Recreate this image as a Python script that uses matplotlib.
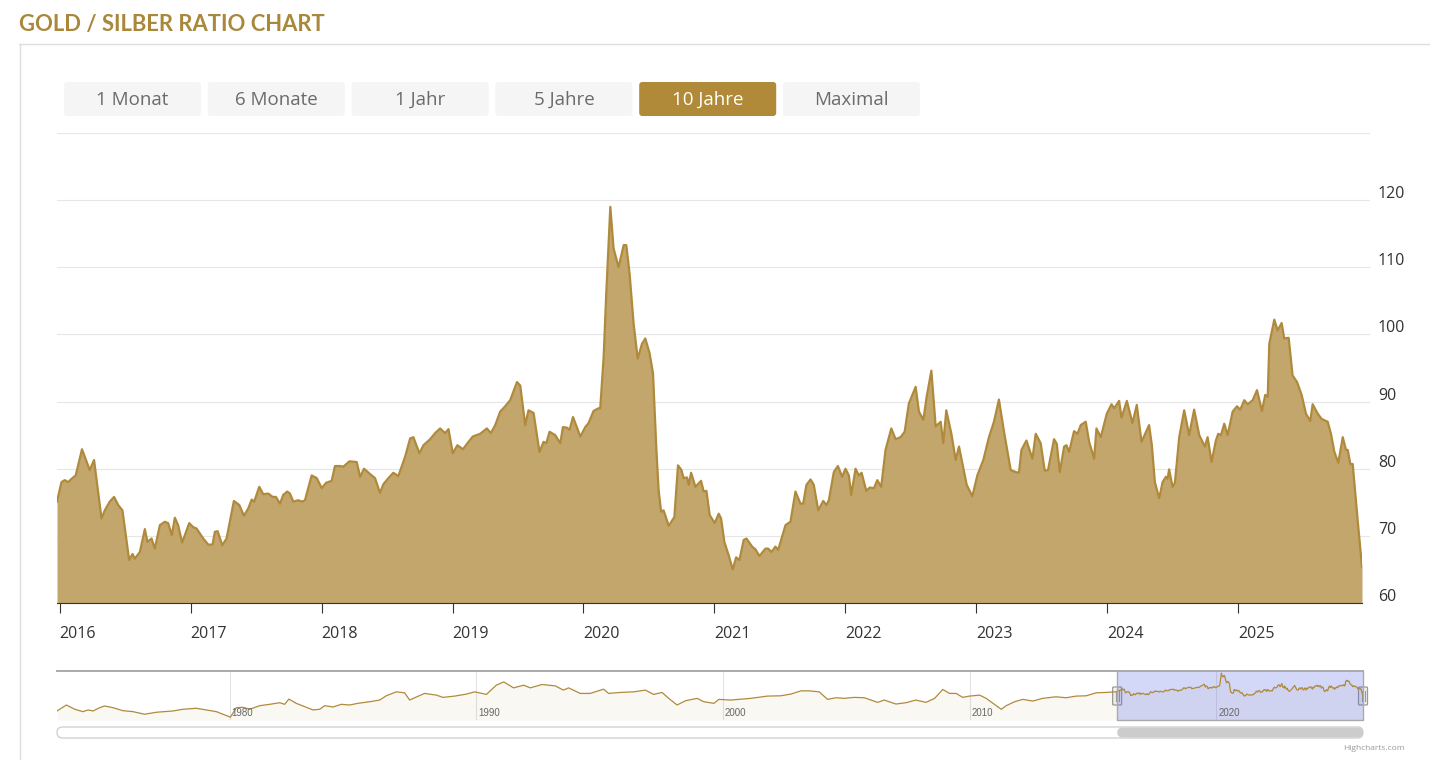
import matplotlib
matplotlib.use('Agg')
import matplotlib.pyplot as plt
from matplotlib.patches import FancyBboxPatch
from matplotlib.transforms import blended_transform_factory, offset_copy

# ---------------- data ----------------
MAIN_YEARS = [
    2015.979, 2016.013, 2016.038, 2016.063, 2016.097, 2016.122, 2016.170, 2016.229, 2016.262, 2016.319,
    2016.344, 2016.382, 2016.415, 2016.446, 2016.479, 2016.530, 2016.556, 2016.573, 2016.612, 2016.650,
    2016.670, 2016.701, 2016.726, 2016.765, 2016.803, 2016.828, 2016.856, 2016.879, 2016.904, 2016.935,
    2016.989, 2017.019, 2017.045, 2017.096, 2017.134, 2017.167, 2017.185, 2017.206, 2017.241, 2017.274,
    2017.330, 2017.371, 2017.407, 2017.440, 2017.466, 2017.485, 2017.524, 2017.554, 2017.593, 2017.626,
    2017.651, 2017.682, 2017.707, 2017.738, 2017.758, 2017.784, 2017.822, 2017.852, 2017.873, 2017.924,
    2017.963, 2018.001, 2018.034, 2018.077, 2018.102, 2018.141, 2018.166, 2018.212, 2018.268, 2018.294,
    2018.324, 2018.370, 2018.408, 2018.446, 2018.472, 2018.510, 2018.548, 2018.586, 2018.638, 2018.676,
    2018.701, 2018.747, 2018.778, 2018.829, 2018.867, 2018.905, 2018.943, 2018.969, 2019.002, 2019.037,
    2019.079, 2019.122, 2019.155, 2019.211, 2019.262, 2019.293, 2019.326, 2019.364, 2019.402, 2019.440,
    2019.492, 2019.517, 2019.555, 2019.580, 2019.619, 2019.664, 2019.695, 2019.716, 2019.741, 2019.784,
    2019.823, 2019.843, 2019.874, 2019.894, 2019.920, 2019.976, 2020.014, 2020.039, 2020.077, 2020.115,
    2020.128, 2020.154, 2020.174, 2020.205, 2020.230, 2020.268, 2020.307, 2020.327, 2020.352, 2020.383,
    2020.414, 2020.447, 2020.472, 2020.505, 2020.531, 2020.557, 2020.574, 2020.593, 2020.612, 2020.651,
    2020.694, 2020.722, 2020.748, 2020.765, 2020.791, 2020.804, 2020.822, 2020.855, 2020.898, 2020.918,
    2020.939, 2020.964, 2021.002, 2021.033, 2021.051, 2021.076, 2021.109, 2021.140, 2021.166, 2021.191,
    2021.224, 2021.245, 2021.288, 2021.313, 2021.344, 2021.390, 2021.410, 2021.436, 2021.466, 2021.487,
    2021.543, 2021.581, 2021.619, 2021.657, 2021.678, 2021.703, 2021.734, 2021.759, 2021.793, 2021.831,
    2021.856, 2021.874, 2021.912, 2021.943, 2021.976, 2022.001, 2022.027, 2022.045, 2022.078, 2022.103,
    2022.124, 2022.160, 2022.187, 2022.218, 2022.244, 2022.274, 2022.307, 2022.351, 2022.384, 2022.422,
    2022.453, 2022.485, 2022.537, 2022.562, 2022.596, 2022.621, 2022.657, 2022.690, 2022.728, 2022.748,
    2022.771, 2022.810, 2022.843, 2022.868, 2022.927, 2022.970, 2023.008, 2023.054, 2023.097, 2023.135,
    2023.173, 2023.212, 2023.263, 2023.301, 2023.326, 2023.345, 2023.383, 2023.429, 2023.454, 2023.492,
    2023.523, 2023.548, 2023.594, 2023.615, 2023.638, 2023.671, 2023.689, 2023.709, 2023.747, 2023.773,
    2023.798, 2023.836, 2023.862, 2023.900, 2023.918, 2023.951, 2023.997, 2024.033, 2024.053, 2024.091,
    2024.109, 2024.150, 2024.193, 2024.226, 2024.262, 2024.320, 2024.341, 2024.364, 2024.397, 2024.423,
    2024.448, 2024.461, 2024.473, 2024.499, 2024.517, 2024.550, 2024.588, 2024.626, 2024.664, 2024.703,
    2024.746, 2024.767, 2024.797, 2024.830, 2024.848, 2024.869, 2024.894, 2024.920, 2024.958, 2024.991,
    2025.016, 2025.047, 2025.073, 2025.111, 2025.144, 2025.182, 2025.207, 2025.226, 2025.238, 2025.276,
    2025.302, 2025.332, 2025.352, 2025.386, 2025.416, 2025.450, 2025.485, 2025.518, 2025.551, 2025.569,
    2025.608, 2025.638, 2025.684, 2025.709, 2025.735, 2025.765, 2025.799, 2025.824, 2025.837, 2025.857,
    2025.875, 2025.913, 2025.946,
]
MAIN_VALUES = [
    75.1, 78.0, 78.3, 78.0, 78.6, 79.0, 82.9, 79.8, 81.3, 72.6,
    73.8, 75.1, 75.8, 74.6, 73.8, 66.4, 67.3, 66.6, 67.6, 71.0,
    69.1, 69.6, 68.1, 71.6, 72.1, 71.9, 70.1, 72.7, 71.6, 69.0,
    71.9, 71.3, 71.1, 69.6, 68.7, 68.7, 70.6, 70.7, 68.6, 69.6,
    75.2, 74.6, 73.0, 74.1, 75.4, 75.1, 77.3, 76.2, 76.3, 75.8,
    75.8, 74.8, 76.1, 76.6, 76.3, 75.1, 75.3, 75.1, 75.3, 79.0,
    78.6, 77.1, 77.9, 78.2, 80.4, 80.4, 80.3, 81.1, 81.0, 78.8,
    80.0, 79.2, 78.6, 76.4, 77.7, 78.6, 79.4, 78.9, 81.8, 84.5,
    84.7, 82.3, 83.5, 84.4, 85.3, 86.0, 85.3, 85.9, 82.3, 83.5,
    82.9, 84.0, 84.8, 85.2, 86.0, 85.3, 86.5, 88.5, 89.3, 90.2,
    92.9, 92.4, 86.5, 88.7, 88.3, 82.5, 84.0, 83.8, 85.5, 85.0,
    83.8, 86.2, 86.1, 85.8, 87.7, 84.8, 86.2, 86.8, 88.6, 89.0,
    89.0, 96.6, 106.1, 119.0, 112.8, 110.0, 113.3, 113.3, 109.1, 101.6,
    96.4, 98.6, 99.4, 97.2, 94.2, 82.8, 76.8, 73.6, 73.8, 71.5,
    72.8, 80.5, 79.8, 78.6, 78.7, 77.6, 79.4, 77.3, 78.2, 76.6,
    76.7, 73.1, 71.9, 73.3, 72.6, 69.1, 67.1, 65.0, 66.8, 66.4,
    69.4, 69.6, 68.4, 68.0, 67.0, 68.1, 68.1, 67.6, 68.4, 67.9,
    71.6, 72.1, 76.6, 74.8, 74.8, 77.6, 78.4, 77.6, 73.8, 75.2,
    74.6, 75.3, 79.5, 80.4, 78.8, 80.0, 79.0, 76.1, 80.0, 79.0,
    79.4, 76.7, 77.2, 77.1, 78.3, 77.3, 82.8, 86.0, 84.4, 84.7,
    85.5, 89.7, 92.2, 88.5, 87.3, 90.7, 94.6, 86.3, 87.0, 83.8,
    88.7, 85.2, 81.3, 83.3, 77.6, 75.9, 79.0, 81.3, 84.7, 87.0,
    90.3, 85.5, 79.8, 79.5, 79.4, 82.8, 84.2, 81.5, 85.2, 83.8,
    79.7, 79.8, 84.4, 83.7, 79.5, 83.3, 83.5, 82.5, 85.6, 85.2,
    86.5, 87.0, 84.0, 81.5, 86.0, 84.7, 88.2, 89.6, 89.0, 90.1,
    87.6, 90.1, 86.8, 89.5, 84.0, 86.5, 83.5, 78.0, 75.6, 78.0,
    78.8, 78.5, 79.9, 77.3, 77.9, 84.7, 88.7, 85.0, 88.8, 85.0,
    83.3, 84.7, 81.0, 84.2, 85.2, 85.0, 86.7, 85.0, 88.5, 89.3,
    88.8, 90.2, 89.6, 90.2, 91.7, 88.6, 91.0, 90.7, 98.6, 102.2,
    100.6, 101.7, 99.4, 99.5, 93.9, 92.9, 91.0, 88.2, 87.1, 89.6,
    88.2, 87.4, 87.0, 85.2, 82.5, 80.9, 84.7, 82.8, 82.8, 80.7,
    80.7, 72.3, 65.4,
]

# navigator history before the zoomed range
NAV_YEARS = [
    1973.00, 1973.38, 1973.72, 1974.05, 1974.26, 1974.46, 1974.73, 1974.93, 1975.27, 1975.67,
    1976.08, 1976.55, 1977.03, 1977.70, 1978.11, 1978.65, 1979.06, 1979.46, 1979.80, 1980.03,
    1980.27, 1980.54, 1980.81, 1981.22, 1981.62, 1982.03, 1982.23, 1982.40, 1982.70, 1983.11,
    1983.38, 1983.65, 1983.85, 1984.19, 1984.53, 1984.86, 1985.20, 1985.67, 1986.08, 1986.35,
    1986.76, 1987.09, 1987.30, 1987.50, 1987.90, 1988.38, 1988.65, 1989.12, 1989.60, 1989.93,
    1990.41, 1990.81, 1991.11, 1991.51, 1991.92, 1992.19, 1992.66, 1993.20, 1993.53, 1993.74,
    1994.21, 1994.62, 1995.16, 1995.36, 1995.84, 1996.38, 1996.85, 1997.19, 1997.53, 1997.80,
    1998.14, 1998.48, 1998.95, 1999.22, 1999.63, 1999.83, 2000.31, 2001.12, 2001.80, 2002.34,
    2002.75, 2003.16, 2003.49, 2003.90, 2004.24, 2004.58, 2004.91, 2005.32, 2005.73, 2006.27,
    2006.54, 2007.01, 2007.42, 2007.82, 2008.23, 2008.58, 2008.91, 2009.18, 2009.45, 2009.72,
    2009.99, 2010.40, 2010.67, 2011.00, 2011.28, 2011.48, 2011.82, 2012.15, 2012.56, 2012.96,
    2013.50, 2013.91, 2014.32, 2014.72, 2015.13, 2015.54, 2015.88,
]
NAV_VALUES = [
    30.2, 44.2, 34.2, 28.6, 32.6, 30.2, 37.9, 41.9, 37.9, 30.9,
    28.6, 22.5, 27.2, 30.2, 34.2, 36.5, 32.6, 28.6, 20.9, 15.6,
    37.9, 38.8, 34.2, 42.6, 45.8, 49.6, 45.8, 58.1, 48.1, 38.8,
    32.6, 34.2, 42.6, 39.5, 45.8, 44.2, 48.1, 51.9, 55.8, 65.8,
    75.1, 72.8, 55.8, 61.2, 71.4, 67.4, 62.1, 65.1, 69.8, 75.1,
    69.1, 90.7, 98.4, 84.4, 90.7, 84.4, 92.3, 89.1, 79.1, 84.4,
    71.4, 71.4, 81.4, 71.4, 73.7, 75.1, 79.1, 69.1, 73.7, 59.8,
    44.2, 54.2, 59.8, 51.9, 48.1, 57.4, 55.8, 59.8, 65.1, 65.8,
    69.8, 77.4, 77.4, 75.1, 57.4, 61.2, 59.8, 62.1, 61.2, 50.4,
    55.8, 46.5, 49.6, 55.8, 50.4, 59.8, 80.7, 71.4, 71.4, 62.1,
    65.1, 67.4, 59.8, 45.8, 34.2, 42.6, 51.9, 57.4, 53.5, 59.8,
    63.5, 61.2, 65.1, 65.8, 72.8, 73.7, 75.1,
]

YEAR_TICKS = list(range(2016, 2026))
Y_TICKS = [60, 70, 80, 90, 100, 110, 120, 130]
Y_LABELS = [60, 70, 80, 90, 100, 110, 120]
NAV_DECADES = [1980, 1990, 2000, 2010, 2020]
NAV_RANGE = (9, 124)
BUTTONS = ['1 Monat', '6 Monate', '1 Jahr', '5 Jahre', '10 Jahre', 'Maximal']
ACTIVE_BUTTON = '10 Jahre'
TITLE = 'GOLD / SILBER RATIO CHART'

# ---------------- style ----------------
GOLD_LINE = '#b08a3c'
GOLD_FILL = '#c3a66b'
GOLD_TITLE = '#a9873b'
FONT = ['Open Sans', 'DejaVu Sans']
plt.rcParams['font.family'] = FONT

W, H = 1430, 760
fig = plt.figure(figsize=(W / 100, H / 100), dpi=100)
fig.patch.set_facecolor('white')


def fr(x0, y0, x1, y1):
    """pixel box (top-left origin) -> figure fraction rect"""
    return [x0 / W, 1 - y1 / H, (x1 - x0) / W, (y1 - y0) / H]


# UI layer in pixel units
ui = fig.add_axes([0, 0, 1, 1])
ui.set_xlim(0, W)
ui.set_ylim(H, 0)
ui.axis('off')

ui.text(19, 24, TITLE, family=['Lato', 'DejaVu Sans'], weight='bold', fontsize=15.8,
        color=GOLD_TITLE, ha='left', va='center')
ui.plot([19, W], [43.5, 43.5], color='#dedede', lw=1)
ui.plot([19.5, 19.5], [43.5, H], color='#dedede', lw=1)

btn_x0, btn_w, btn_step, btn_y0, btn_h = 64, 137, 143.8, 82, 34
for i, name in enumerate(BUTTONS):
    x0 = btn_x0 + i * btn_step
    active = name == ACTIVE_BUTTON
    ui.add_patch(FancyBboxPatch((x0, btn_y0), btn_w, btn_h,
                                boxstyle='round,pad=0,rounding_size=3',
                                fc='#b08a38' if active else '#f5f5f5', ec='none'))
    ui.text(x0 + btn_w / 2, btn_y0 + btn_h / 2 + 1, name, ha='center', va='center',
            fontsize=13.5, color='white' if active else '#6b6b6b')

ui.text(1405, 748, 'Highcharts.com', ha='right', va='center', fontsize=6, color='#999999')

# ---------------- grid layer (extends a little past the plot, as in the original) ----------------
grid = fig.add_axes(fr(57, 133, 1370, 603))
grid.set_facecolor('none')
grid.set_ylim(Y_TICKS[0], Y_TICKS[-1])
grid.set_yticks(Y_TICKS)
grid.set_xticks([])
grid.yaxis.grid(True, color='#e6e6e6', lw=0.8)
grid.tick_params(axis='y', length=0, labelleft=False)
for s in grid.spines.values():
    s.set_visible(False)

# ---------------- main chart ----------------
ax = fig.add_axes(fr(57, 133, 1362, 603))
ax.set_facecolor('none')
ax.set_xlim(MAIN_YEARS[0], MAIN_YEARS[-1])
ax.set_ylim(Y_TICKS[0], Y_TICKS[-1])
ax.fill_between(MAIN_YEARS, MAIN_VALUES, Y_TICKS[0], color=GOLD_FILL, lw=0, zorder=2)
ax.plot(MAIN_YEARS, MAIN_VALUES, color=GOLD_LINE, lw=1.6, solid_joinstyle='round', zorder=3)

ax.set_yticks([])
for s in ['top', 'left', 'right']:
    ax.spines[s].set_visible(False)
ax.spines['bottom'].set_color('#333333')
ax.spines['bottom'].set_linewidth(0.8)
ax.spines['bottom'].set_zorder(4)

ax.set_xticks(YEAR_TICKS)
ax.set_xticklabels([str(y) for y in YEAR_TICKS])
ax.tick_params(axis='x', length=7.2, width=0.8, color='#333333', pad=9.5,
               labelsize=11.5, labelcolor='#333333')
for lbl in ax.get_xticklabels():
    lbl.set_horizontalalignment('left')

ytrans = offset_copy(blended_transform_factory(ax.transAxes, ax.transData),
                     fig=fig, x=16, y=2, units='dots')
for v in Y_LABELS:
    ax.text(1.0, v, str(v), transform=ytrans, ha='left', va='baseline',
            fontsize=11.5, color='#333333', clip_on=False)

# ---------------- navigator ----------------
nav_x = NAV_YEARS + MAIN_YEARS
nav_y = NAV_VALUES + MAIN_VALUES
nav = fig.add_axes(fr(57, 671, 1363, 720))
nav.set_facecolor('none')
nav.set_xlim(nav_x[0], nav_x[-1])
nav.set_ylim(*NAV_RANGE)
nav.axis('off')
nav.fill_between(nav_x, nav_y, NAV_RANGE[0], color=GOLD_LINE, alpha=0.06, lw=0)
nav.plot(nav_x, nav_y, color=GOLD_LINE, lw=0.9)
ntrans = blended_transform_factory(nav.transData, nav.transAxes)
nlab = offset_copy(ntrans, fig=fig, x=2, y=0, units='dots')
for d in NAV_DECADES:
    nav.axvline(d, color='#e3e3e3', lw=0.8, zorder=0)
    nav.text(d, 0.14, str(d), transform=nlab, ha='left', va='center', fontsize=7,
             family=['Liberation Sans Narrow', 'Liberation Sans', 'DejaVu Sans'], color='#666666')
nav.axvspan(MAIN_YEARS[0], MAIN_YEARS[-1], color=(0.34, 0.42, 0.92), alpha=0.26, lw=0)
nav.plot([0, 1], [1, 1], transform=nav.transAxes, color='#aaaaaa', lw=1.4, clip_on=False)
nav.plot([MAIN_YEARS[0], MAIN_YEARS[0], MAIN_YEARS[-1], MAIN_YEARS[-1]], [1, 0, 0, 1],
         transform=ntrans, color='#aaaaaa', lw=1.0, clip_on=False)

# handles (positioned from the navigator's data transform)
fig.canvas.draw()
for edge in (MAIN_YEARS[0], MAIN_YEARS[-1]):
    px = nav.transData.transform((edge, NAV_RANGE[0]))[0]
    hy = 687
    ui.add_patch(FancyBboxPatch((px - 4.5, hy), 9, 18, boxstyle='round,pad=0,rounding_size=1',
                                fc='#f2f2f2', ec='#999999', lw=0.9, zorder=10))
    for dx in (-1.5, 1.5):
        ui.plot([px + dx, px + dx], [hy + 4, hy + 14], color='#999999', lw=0.8, zorder=11)

# ---------------- scrollbar ----------------
sb = fig.add_axes(fr(57, 727, 1363, 738))
sb.set_facecolor('none')
sb.set_xlim(nav.get_xlim())
sb.set_ylim(0, 1)
sb.axis('off')
xspan = nav.get_xlim()[1] - nav.get_xlim()[0]
r = 5.5 * xspan / 1306
asp = 1306 / (11 * xspan)
sb.add_patch(FancyBboxPatch((nav.get_xlim()[0], 0), xspan, 1,
                            boxstyle=f'round,pad=0,rounding_size={r}', mutation_aspect=asp,
                            fc='white', ec='#cccccc', lw=0.9, clip_on=False))
sb.add_patch(FancyBboxPatch((MAIN_YEARS[0], 0.05), MAIN_YEARS[-1] - MAIN_YEARS[0], 0.9,
                            boxstyle=f'round,pad=0,rounding_size={r}', mutation_aspect=asp,
                            fc='#cccccc', ec='none', clip_on=False))

fig.savefig('out.png', dpi=100, facecolor='white')
